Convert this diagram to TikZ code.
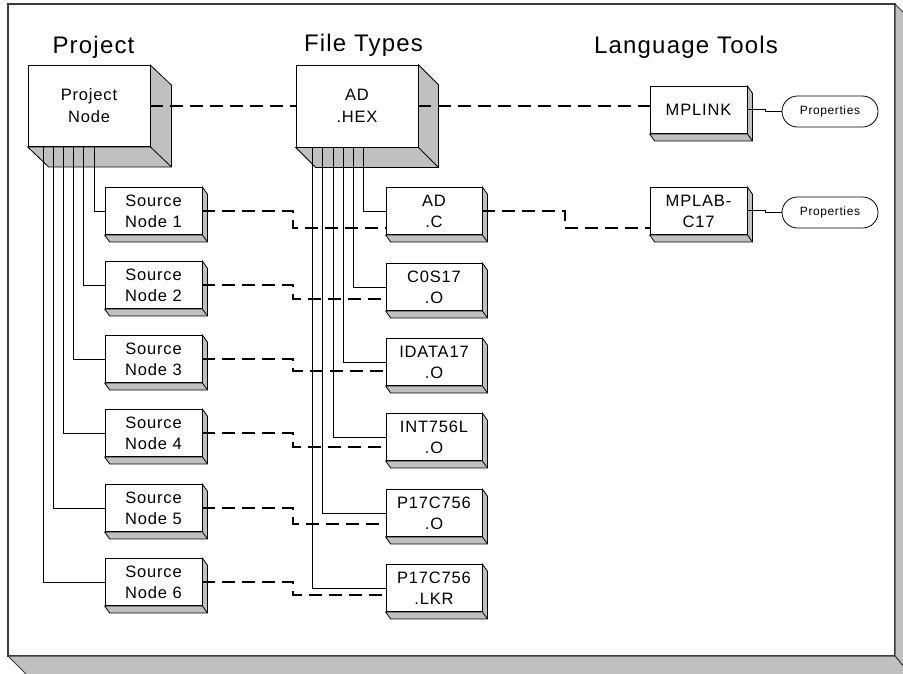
\documentclass[tikz,border=0pt]{standalone}
\usepackage{fontspec}
\setmainfont{Liberation Sans}[LetterSpace=5]
\usetikzlibrary{calc}
\definecolor{bev}{RGB}{192,192,192}
\definecolor{framec}{RGB}{60,60,60}
\pgfdeclarelayer{bg}
\pgfdeclarelayer{bevl}
\pgfsetlayers{bg,bevl,main}
\tikzset{
 every node/.style={inner sep=0pt},
 bigbox/.style={draw, fill=white, line width=0.8pt, minimum width=122pt, minimum height=81pt, align=center, font=\fontsize{16.5}{22}\selectfont},
 smallbox/.style={draw, fill=white, line width=0.8pt, minimum width=97pt, minimum height=47pt, align=center, font=\fontsize{16.5}{21}\selectfont},
 propbox/.style={draw, fill=white, line width=0.8pt, rounded corners=15.5pt, minimum width=96pt, minimum height=31pt, font=\fontsize{12}{14}\selectfont},
 title/.style={anchor=base, font=\fontsize{24}{28}\selectfont},
 tree/.style={line width=0.6pt},
 dsh/.style={line width=2pt, dash pattern=on 13pt off 7pt},
 bevface/.style={fill=bev, draw=black, line width=0.8pt, line join=miter},
}
\newcommand\bevel[3]{%
  \begin{pgfonlayer}{bevl}
  \draw[bevface] (#1.north east) -- ++(#2,#3) -- ($(#1.south east)+(#2,#3)$) -- ($(#1.south west)+(#2,#3)$) -- (#1.south west) -- (#1.south east) -- cycle;
  \draw[bevface] (#1.south east) -- ++(#2,#3);
  \end{pgfonlayer}}
\begin{document}
\begin{tikzpicture}[x=1pt,y=-1pt]
\useasboundingbox (0,0) rectangle (903,673);
\clip (0,0) rectangle (903,673);
\begin{pgfonlayer}{bg}
\fill[white] (0,0) rectangle (903,673);
\draw[fill=white, draw=framec, line width=1.2pt] (8,4) rectangle (895,656);
\draw[fill=bev, draw=framec, line width=1pt] (895,4) -- (915,24) -- (915,680) -- (895,656) -- cycle;
\draw[fill=bev, draw=framec, line width=1pt] (8,656) -- (32,680) -- (915,680) -- (895,656) -- cycle;
\end{pgfonlayer}

\node[title] (tproj) at (93.5,53) {Project};
\node[title] (tfile) at (363.5,51) {File Types};
\node[title] (tlang) at (686,53) {Language Tools};

\node[bigbox] (proj) at (89,106) {Project\\Node};
\node[bigbox, minimum height=82pt] (hex) at (357,106) {AD\\.HEX};
\node[smallbox] (mplink) at (698.5,110) {MPLINK};
\node[smallbox] (mplab) at (698.5,211) {MPLAB-\\C17};
\node[propbox] (prop1) at (830,111.5) {Properties};
\node[propbox] (prop2) at (830,212.5) {Properties};

\node[smallbox] (s1) at (153.5,211) {Source\\Node 1};
\node[smallbox] (s2) at (153.5,285) {Source\\Node 2};
\node[smallbox] (s3) at (153.5,359) {Source\\Node 3};
\node[smallbox] (s4) at (153.5,433) {Source\\Node 4};
\node[smallbox] (s5) at (153.5,508) {Source\\Node 5};
\node[smallbox] (s6) at (153.5,582) {Source\\Node 6};

\node[smallbox, minimum width=96pt] (f1) at (434,211) {AD\\.C};
\node[smallbox, minimum width=96pt] (f2) at (434,287) {C0S17\\.O};
\node[smallbox, minimum width=96pt] (f3) at (434,362) {IDATA17\\.O};
\node[smallbox, minimum width=96pt] (f4) at (434,437) {INT756L\\.O};
\node[smallbox, minimum width=96pt] (f5) at (434,513) {P17C756\\.O};
\node[smallbox, minimum width=96pt] (f6) at (434,588) {P17C756\\.LKR};

\bevel{proj}{21}{20}
\bevel{hex}{20}{20}
\foreach \n in {mplink,mplab,s1,s2,s3,s4,s5,s6,f1,f2,f3,f4,f5,f6} {\bevel{\n}{5}{7}}

% tree from project node
\draw[tree] (s1.west) -| ($(proj.south west)+(67,0)$);
\draw[tree] (s2.west) -| ($(proj.south west)+(56,0)$);
\draw[tree] (s3.west) -| ($(proj.south west)+(46,0)$);
\draw[tree] (s4.west) -| ($(proj.south west)+(36,0)$);
\draw[tree] (s5.west) -| ($(proj.south west)+(26,0)$);
\draw[tree] (s6.west) -| ($(proj.south west)+(16,0)$);
% tree from hex node
\draw[tree] (f1.west) -| ($(hex.south west)+(68,0)$);
\draw[tree] (f2.west) -| ($(hex.south west)+(58,0)$);
\draw[tree] (f3.west) -| ($(hex.south west)+(48,0)$);
\draw[tree] (f4.west) -| ($(hex.south west)+(38,0)$);
\draw[tree] (f5.west) -| ($(hex.south west)+(27,0)$);
\draw[tree] (f6.west) -| ($(hex.south west)+(17,0)$);

% dashed links
\coordinate (d1) at (293,228);
\coordinate (d2) at (293,299);
\coordinate (d3) at (293,371);
\coordinate (d4) at (293,447);
\coordinate (d5) at (293,524);
\coordinate (d6) at (293,595);
\foreach \i in {1,...,6} {\draw[dsh] (s\i.east) -| (d\i) -- (d\i -| f\i.west);}
\draw[dsh] (proj.east) -- (hex.west);
\draw[dsh] (hex.east) -- (hex.east -| mplink.west);
\coordinate (dc) at (565,228);
\draw[dsh] (f1.east) -| (dc) -- (dc -| mplab.west);

% properties links
\coordinate (p1) at (765,109);
\coordinate (p2) at (765,210);
\draw[tree] (p1 -| mplink.east) -- (p1) |- (prop1.west);
\draw[tree] (p2 -| mplab.east) -- (p2) |- (prop2.west);
\end{tikzpicture}
\end{document}
